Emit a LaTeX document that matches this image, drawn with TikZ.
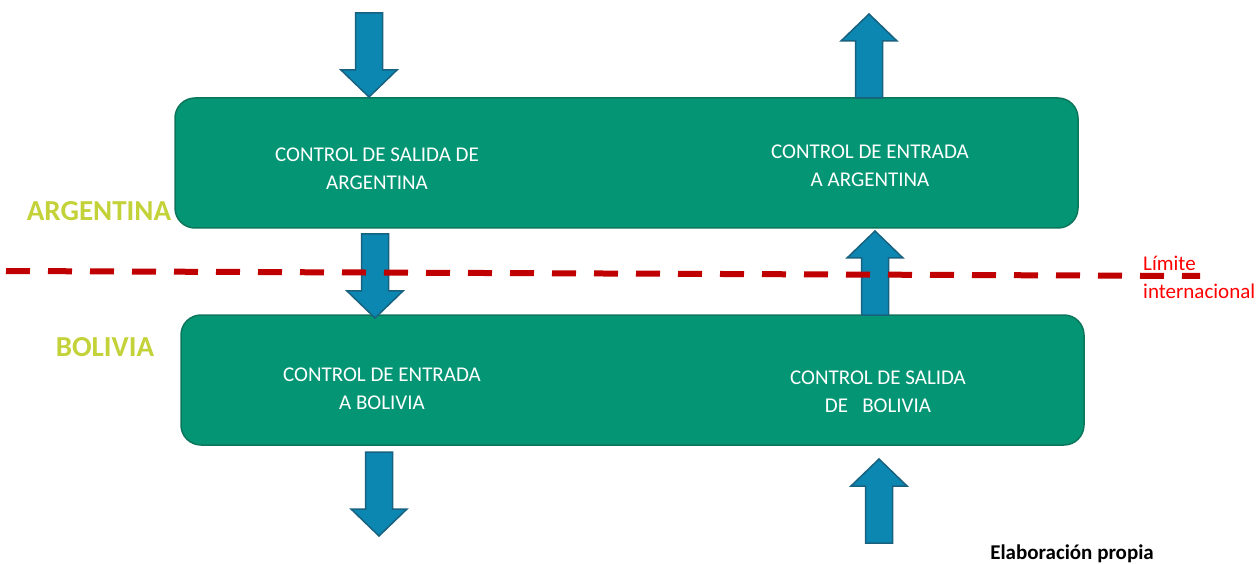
\documentclass[tikz,border=0pt]{standalone}
\usepackage{fontspec}
\setmainfont{Carlito}
\usepackage{xcolor}
\usetikzlibrary{positioning}

\definecolor{boxgreen}{RGB}{4,150,116}
\definecolor{boxedge}{RGB}{12,118,92}
\definecolor{flowblue}{RGB}{11,135,178}
\definecolor{flowedge}{RGB}{24,98,128}
\definecolor{countrygreen}{RGB}{196,210,58}
\definecolor{limitred}{RGB}{192,0,0}
\definecolor{labelred}{RGB}{255,0,0}

\begin{document}
\begin{tikzpicture}[ x = 1pt, y = -1pt
                     , font = \fontsize{21}{28}\selectfont
                     , control/.style = { rectangle
                                        , rounded corners = 20pt
                                        , draw = boxedge
                                        , line width = 1.5pt
                                        , fill = boxgreen
                                        , minimum width = 903pt
                                        , minimum height = 130pt }
                     , flow/.style = { draw = flowedge
                                     , fill = flowblue
                                     , line width = 1.5pt
                                     , line join = miter }
                     , country/.style = { text = countrygreen
                                        , font = \fontsize{29}{34}\selectfont\bfseries }
                     , limit/.style = { draw = limitred
                                      , line width = 6pt
                                      , dash pattern = on 24pt off 18pt }
                     ]

  \useasboundingbox (0,0) rectangle (1259,564);

  \node (argBox) [control] at (626.5,163) {};
  \node (bolBox) [control] at (632.5,380) {};

  % block arrows: tail centre x / tail y / direction (1 = down, -1 = up)
  \foreach \x/\y/\d in {369/13/1, 869/98/-1, 375/234/1, 875/315/-1, 379/452/1, 879/543/-1}
  {
    \draw [flow] (\x-13.5,\y) -- (\x+13.5,\y) -- (\x+13.5,\y+57*\d)
      -- (\x+28,\y+57*\d) -- (\x,\y+84*\d) -- (\x-28,\y+57*\d)
      -- (\x-13.5,\y+57*\d) -- cycle;
  }

  % border line
  \coordinate (limW) at (6,271);
  \coordinate (limE) at (1200,276);
  \draw [limit] (limW) -- (limE);

  \node (argLabel) [country, anchor = base] at (99,221) {ARGENTINA};
  \node (bolLabel) [country, anchor = base] at (105,356) {BOLIVIA};

  \tikzset{every node/.style={align=center, text=white}}

  \node (argExit)  at (377,169) {CONTROL DE SALIDA DE\\ARGENTINA};
  \node (argEntry) at (870,166) {CONTROL DE ENTRADA\\A ARGENTINA};
  \node (bolEntry) at (382,389) {CONTROL DE ENTRADA\\A BOLIVIA};
  \node (bolExit)  at (878,392) {CONTROL DE SALIDA\\DE\ \ \ BOLIVIA};

  \node (limText) [anchor = west, align = left, inner sep = 0pt, text = labelred]
    at (1143,277) {Límite\\internacional};

  \node (source) [anchor = base, text = black, font = \fontsize{21}{28}\selectfont\bfseries]
    at (1072,559) {Elaboración propia};

\end{tikzpicture}
\end{document}
